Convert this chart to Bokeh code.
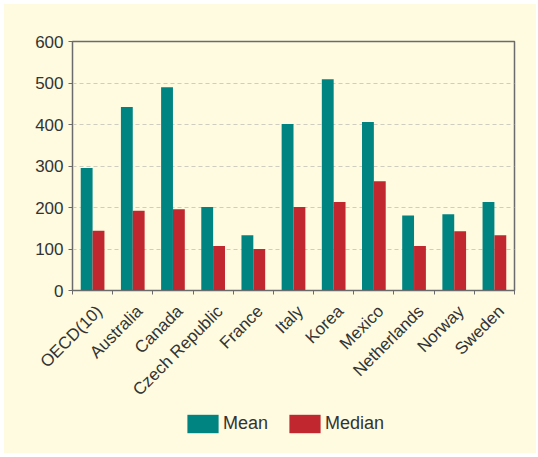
import math
from bokeh.plotting import figure
from bokeh.layouts import column
from bokeh.models import ColumnDataSource, FixedTicker, Legend, LegendItem, Range1d
from bokeh.embed import file_html
from bokeh.resources import INLINE

countries = ["OECD(10)", "Australia", "Canada", "Czech Republic", "France", "Italy",
             "Korea", "Mexico", "Netherlands", "Norway", "Sweden"]
mean_vals = [295, 442, 490, 201, 133, 401, 509, 406, 181, 184, 213]
median_vals = [144, 192, 196, 107, 100, 201, 213, 263, 107, 143, 133]
y_ticks = [0, 100, 200, 300, 400, 500, 600]
series_names = ["Mean", "Median"]

TEAL = "#008482"
RED = "#C1272E"
CREAM = "#FEFBE0"
TEXT = "#333333"
AXIS = "#6b6b6b"
FONT = "Liberation Sans"

centers = [i + 0.5 for i in range(len(countries))]
bar_w = 0.295
# slanted labels end a little to the right of each group's centre
label_pos = [c + 0.17 for c in centers]

src = ColumnDataSource(dict(
    x_mean=[c - bar_w / 2 for c in centers],
    x_median=[c + bar_w / 2 for c in centers],
    mean=mean_vals,
    median=median_vals,
))

# ---- main bar chart ----
p = figure(width=532, height=407, x_range=(0, len(countries)), y_range=(0, 600),
           output_backend="svg", toolbar_location=None,
           min_border_left=68, min_border_right=22, min_border_top=37, min_border_bottom=121,
           background_fill_color=CREAM, border_fill_color=CREAM, margin=0)

p.vbar(x="x_mean", top="mean", width=bar_w, source=src, fill_color=TEAL, line_color=None)
p.vbar(x="x_median", top="median", width=bar_w, source=src, fill_color=RED, line_color=None)

p.outline_line_color = AXIS
p.outline_line_width = 1.5

p.yaxis.ticker = FixedTicker(ticks=y_ticks)
p.yaxis.axis_line_color = AXIS
p.yaxis.major_tick_line_color = AXIS
p.yaxis.major_tick_out = 4
p.yaxis.major_tick_in = 0
p.yaxis.minor_tick_line_color = None
p.yaxis.major_label_text_font = FONT
p.yaxis.major_label_text_font_size = "17px"
p.yaxis.major_label_text_color = TEXT
p.yaxis.major_label_standoff = 5

# category labels via (hidden) major ticks, tick marks at category boundaries
p.xaxis.ticker = FixedTicker(ticks=label_pos, minor_ticks=list(range(len(countries) + 1)))
p.xaxis.major_label_overrides = {x: name for x, name in zip(label_pos, countries)}
p.xaxis.major_tick_line_color = None
p.xaxis.minor_tick_line_color = AXIS
p.xaxis.minor_tick_out = 4
p.xaxis.minor_tick_in = 0
p.xaxis.axis_line_color = AXIS
p.xaxis.major_label_orientation = math.pi / 4
p.xaxis.major_label_text_font = FONT
p.xaxis.major_label_text_font_size = "17px"
p.xaxis.major_label_text_color = TEXT
p.xaxis.major_label_standoff = 12

p.xgrid.grid_line_color = None
p.ygrid.grid_line_color = "#cfcdc0"
p.ygrid.grid_line_dash = "4 3"
p.ygrid.ticker = FixedTicker(ticks=y_ticks[1:-1])

# ---- legend strip (its frame lines up with the chart frame in the column) ----
leg = figure(width=532, height=42, x_range=Range1d(0, 1), y_range=Range1d(0, 1),
             output_backend="svg", toolbar_location=None,
             min_border=0, background_fill_color=CREAM, border_fill_color=CREAM,
             outline_line_color=None, margin=0)
leg.axis.visible = False
leg.grid.visible = False
# zero-height key glyphs: nothing drawn in the strip, only their legend swatches
key_mean = leg.vbar(x=[0.5], top=[0], bottom=[0], width=0.1, fill_color=TEAL, line_color=None)
key_median = leg.vbar(x=[0.5], top=[0], bottom=[0], width=0.1, fill_color=RED, line_color=None)

legend = Legend(items=[LegendItem(label=series_names[0], renderers=[key_mean]),
                       LegendItem(label=series_names[1], renderers=[key_median])],
                orientation="horizontal", location=(111, 18),
                padding=0, margin=0, spacing=17, label_standoff=1,
                glyph_width=39, glyph_height=23,
                label_text_font=FONT, label_text_font_size="18px", label_text_color=TEXT,
                background_fill_alpha=0, border_line_alpha=0)
leg.add_layout(legend, "center")

layout = column(p, leg, spacing=0, margin=(4, 2, 4, 4), background=CREAM)

open("out.html", "w").write(file_html(layout, INLINE))
